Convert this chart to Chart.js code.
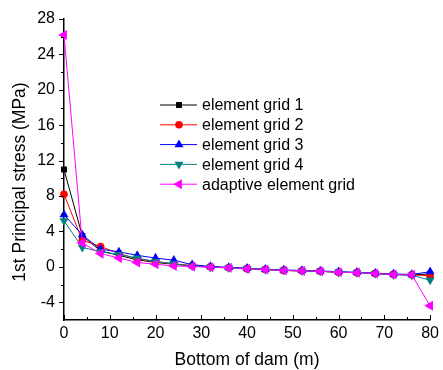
<!DOCTYPE html>
<html>
<head>
<meta charset="utf-8">
<script src="https://cdn.jsdelivr.net/npm/chart.js@4"></script>
<style>
  body { margin: 0; background: #fff; }
  #wrap { width: 443px; height: 370px; }
</style>
</head>
<body>
<div id="wrap"><canvas id="myChart" width="443" height="370"></canvas></div>
<script>
const xValues = [0, 4, 8, 12, 16, 20, 24, 28, 32, 36, 40, 44, 48, 52, 56, 60, 64, 68, 72, 76, 80];
const grid1 = [11.0, 3.5, 1.8, 1.3, 0.8, 0.5, 0.3, 0.1, 0.0, -0.1, -0.2, -0.3, -0.4, -0.45, -0.5, -0.6, -0.65, -0.75, -0.85, -0.9, -0.8];
const grid2 = [8.2, 3.0, 2.3, 1.5, 0.9, 0.6, 0.35, 0.15, 0.0, -0.1, -0.2, -0.3, -0.4, -0.45, -0.5, -0.6, -0.65, -0.75, -0.85, -0.9, -1.0];
const grid3 = [5.9, 3.6, 2.0, 1.7, 1.3, 1.0, 0.75, 0.25, 0.05, -0.05, -0.15, -0.25, -0.35, -0.4, -0.45, -0.55, -0.6, -0.7, -0.8, -0.85, -0.55];
const grid4 = [5.2, 2.2, 1.7, 1.4, 1.0, 0.6, 0.35, 0.1, -0.05, -0.1, -0.2, -0.3, -0.4, -0.45, -0.5, -0.6, -0.65, -0.75, -0.9, -0.95, -1.5];
const adaptive = [26.2, 2.7, 1.5, 1.0, 0.5, 0.3, 0.1, 0.05, -0.05, -0.1, -0.2, -0.3, -0.4, -0.45, -0.5, -0.6, -0.65, -0.75, -0.85, -0.9, -4.4];
const seriesNames = ["element grid 1", "element grid 2", "element grid 3", "element grid 4", "adaptive element grid"];
const yTicks = [-4, 0, 4, 8, 12, 16, 20, 24, 28];
const xTicks = [0, 10, 20, 30, 40, 50, 60, 70, 80];

const FONT = "'Liberation Sans', Arial, sans-serif";

function pts(ys) {
  return xValues.map((x, i) => ({ x: x, y: ys[i] }));
}

const styles = [
  { color: "#000000", pointStyle: "rect", radius: 4.2, rotation: 0 },
  { color: "#ff0000", pointStyle: "circle", radius: 3.8, rotation: 0 },
  { color: "#0000ff", pointStyle: "triangle", radius: 5.2, rotation: 0 },
  { color: "#008080", pointStyle: "triangle", radius: 5.2, rotation: 180 },
  { color: "#ff00ff", pointStyle: "triangle", radius: 5.8, rotation: -90 },
];
const allData = [grid1, grid2, grid3, grid4, adaptive];

const datasets = allData.map((d, i) => ({
  label: seriesNames[i],
  data: pts(d),
  borderColor: styles[i].color,
  backgroundColor: styles[i].color,
  borderWidth: 1,
  pointStyle: styles[i].pointStyle,
  pointRadius: styles[i].radius,
  pointRotation: styles[i].rotation,
  pointBorderWidth: 0,
  tension: 0,
  clip: false,
  order: 4 - i,
}));

// axis ticks, titles and legend
const decor = {
  id: "decor",
  afterDraw(chart) {
    const c = chart.ctx;
    const x = chart.scales.x, y = chart.scales.y;
    const a = chart.chartArea;
    c.save();
    c.strokeStyle = "#000";
    c.lineWidth = 1;
    // y ticks (outward)
    for (let v = -4; v <= 28; v += 2) {
      const p = Math.round(y.getPixelForValue(v)) + 0.5;
      const len = v % 4 === 0 ? 5 : 3;
      c.beginPath();
      c.moveTo(a.left - len, p);
      c.lineTo(a.left, p);
      c.stroke();
    }
    // x ticks (inward)
    for (let v = 0; v <= 80; v += 5) {
      const p = Math.round(x.getPixelForValue(v)) + 0.5;
      const len = v % 10 === 0 ? 5 : 3;
      c.beginPath();
      c.moveTo(p, a.bottom);
      c.lineTo(p, a.bottom - len);
      c.stroke();
    }
    // axis titles
    c.fillStyle = "#000";
    c.font = "17.5px " + FONT;
    c.textAlign = "center";
    c.textBaseline = "middle";
    c.fillText("Bottom of dam (m)", (a.left + a.right) / 2, 360);
    c.translate(20, 182);
    c.rotate(-Math.PI / 2);
    c.fillText("1st Principal stress (MPa)", 0, 0);
    c.restore();

    // legend
    c.save();
    c.font = "16px " + FONT;
    c.textBaseline = "middle";
    c.textAlign = "left";
    seriesNames.forEach((name, i) => {
      const ly = 105 + i * 19.8;
      const s = styles[i];
      c.strokeStyle = s.color;
      c.fillStyle = s.color;
      c.lineWidth = 1;
      c.beginPath();
      c.moveTo(160, ly);
      c.lineTo(197, ly);
      c.stroke();
      Chart.helpers.drawPoint(c, {
        pointStyle: s.pointStyle,
        radius: s.radius,
        rotation: s.rotation,
        borderWidth: 0,
      }, 179, ly);
      c.fillStyle = "#000";
      c.fillText(name, 202, ly + 1);
    });
    c.restore();
  },
};

const ctx = document.getElementById("myChart");

new Chart(ctx, {
  type: "line",
  data: { datasets: datasets },
  options: {
    responsive: false,
    animation: false,
    layout: { padding: { top: 19, right: 8, left: 0, bottom: 0 } },
    plugins: {
      legend: { display: false },
      tooltip: { enabled: false },
    },
    scales: {
      x: {
        type: "linear",
        min: 0,
        max: 80,
        afterFit: (s) => { s.height = 50; },
        afterBuildTicks: (s) => { s.ticks = xTicks.map((v) => ({ value: v })); },
        grid: { display: false, drawTicks: false },
        border: { display: true, color: "#000", width: 1.5 },
        ticks: { color: "#000", padding: 4, maxRotation: 0, autoSkip: false, font: { family: FONT, size: 16 } },
      },
      y: {
        type: "linear",
        min: -6,
        max: 28,
        afterFit: (s) => { s.width = 64; },
        afterBuildTicks: (s) => { s.ticks = yTicks.map((v) => ({ value: v })); },
        grid: { display: false, drawTicks: false },
        border: { display: true, color: "#000", width: 1.5 },
        ticks: { color: "#000", padding: 9, autoSkip: false, font: { family: FONT, size: 16 } },
      },
    },
  },
  plugins: [decor],
});
</script>
</body>
</html>
